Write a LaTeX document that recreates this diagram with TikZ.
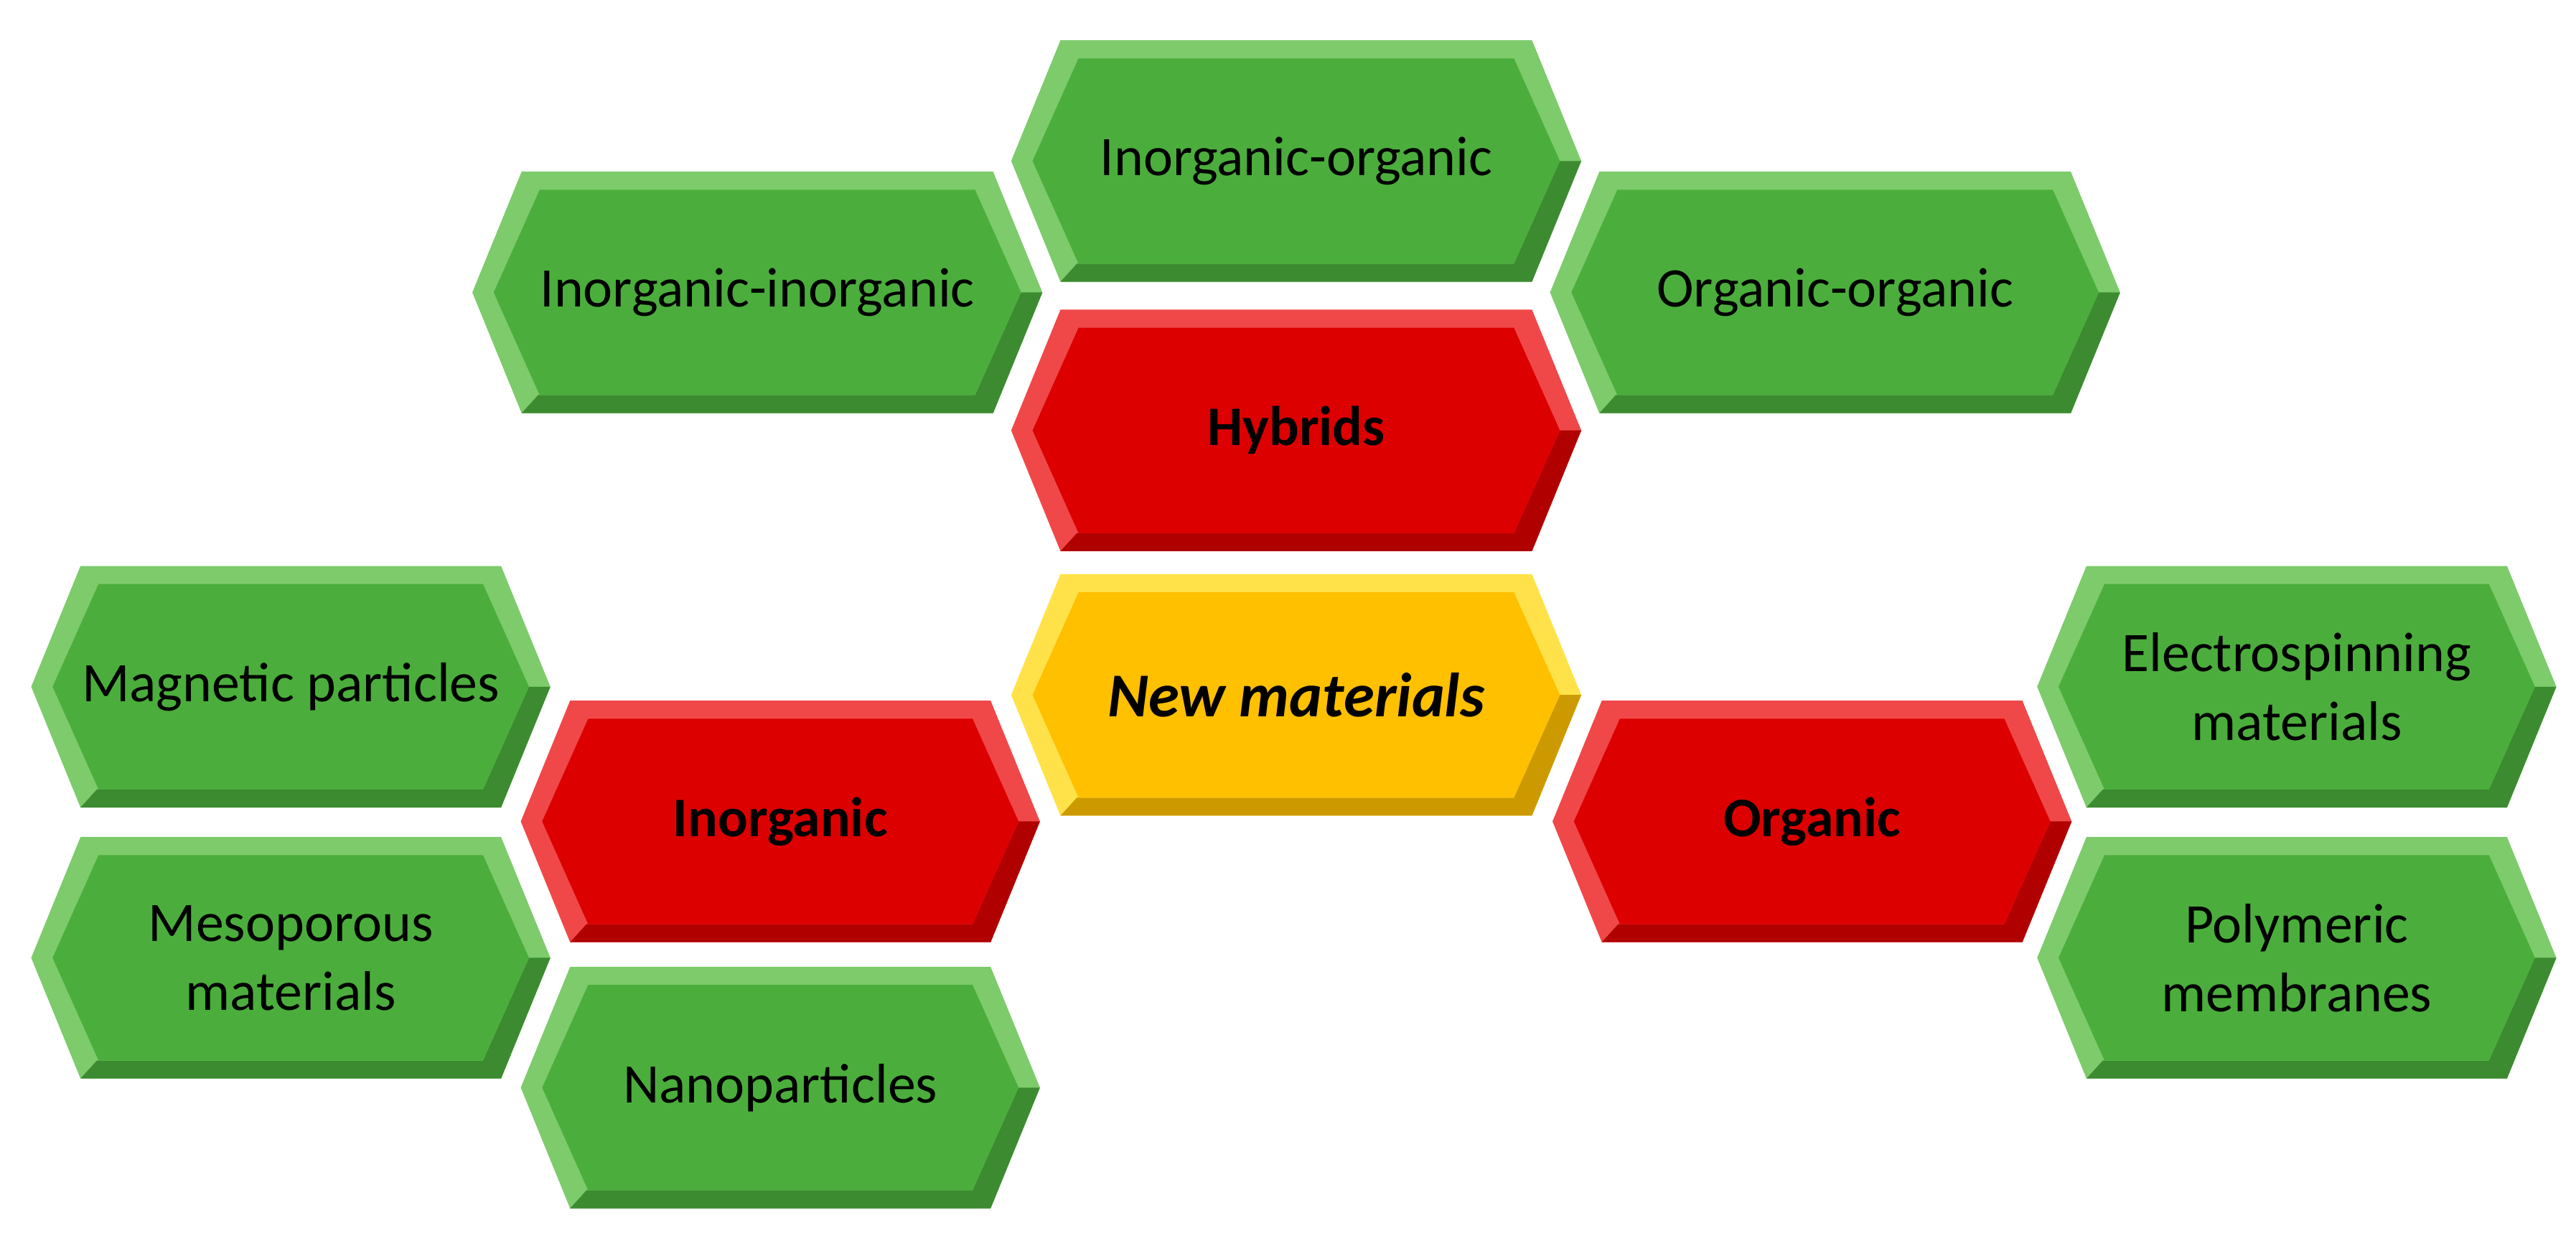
\documentclass[tikz,border=0pt]{standalone}
\usepackage{fontspec}
\setmainfont{Carlito}
\definecolor{gmain}{HTML}{4BAE3C}
\definecolor{gbev}{HTML}{7DCB6B}
\definecolor{gdark}{HTML}{3A9A2E}
\definecolor{rmain}{HTML}{DD0000}
\definecolor{rbev}{HTML}{F04848}
\definecolor{rdark}{HTML}{B80000}
\definecolor{ymain}{HTML}{FFC000}
\definecolor{ybev}{HTML}{FFE24A}
\definecolor{ydark}{HTML}{E0A000}
\newcommand\hexbox[8]{%
 \begin{scope}[shift={(#2,#3)}]
  \pgfmathsetmacro\ha{#4/2}\pgfmathsetmacro\hb{#5/2}
  \fill[#7] (-\ha,0)--(-\ha+30,-\hb)--(\ha-30,-\hb)--(\ha,0)--(\ha-30,\hb)--(-\ha+30,\hb)--cycle;
  \fill[#6!80!black] (\ha,0)--(\ha-30,\hb)--(-\ha+30,\hb)--(-\ha+40,\hb-11)--(\ha-41,\hb-11)--(\ha-13,0)--cycle;
  \fill[#6] (-\ha+13,0)--(-\ha+41,-\hb+11)--(\ha-41,-\hb+11)--(\ha-13,0)--(\ha-41,\hb-11)--(-\ha+41,\hb-11)--cycle;
 \end{scope}
 \node[align=center,font=\fontsize{17}{19}\selectfont#8] (#1) at (#2,#3) {};}
\begin{document}
\begin{tikzpicture}[x=0.5pt,y=-0.5pt]
\useasboundingbox (0,0) rectangle (1568,755);
\hexbox{io}{789}{98}{347}{147}{gmain}{gbev}{}
\node[font=\fontsize{17}{19}\selectfont] at (io) {Inorganic-organic};
\hexbox{ii}{461}{178}{347}{147}{gmain}{gbev}{}
\node[font=\fontsize{17}{19}\selectfont] at (ii) {Inorganic-inorganic};
\hexbox{oo}{1117}{178}{347}{147}{gmain}{gbev}{}
\node[font=\fontsize{17}{19}\selectfont] at (oo) {Organic-organic};
\hexbox{hy}{789}{262}{347}{147}{rmain}{rbev}{}
\node[font=\bfseries\fontsize{17}{19}\selectfont] at (hy) {Hybrids};
\hexbox{nm}{789}{423}{347}{147}{ymain}{ybev}{}
\node[font=\bfseries\itshape\fontsize{19}{21}\selectfont] at (nm) {New materials};
\hexbox{mp}{177}{418}{316}{147}{gmain}{gbev}{}
\node[font=\fontsize{17}{19}\selectfont] at (mp) {Magnetic particles};
\hexbox{in}{475}{500}{316}{147}{rmain}{rbev}{}
\node[font=\bfseries\fontsize{17}{19}\selectfont] at (in) {Inorganic};
\hexbox{me}{177}{583}{316}{147}{gmain}{gbev}{}
\node[align=center,font=\fontsize{17}{21}\selectfont] at (me) {Mesoporous\\materials};
\hexbox{np}{475}{662}{316}{147}{gmain}{gbev}{}
\node[font=\fontsize{17}{19}\selectfont] at (np) {Nanoparticles};
\hexbox{or}{1103}{500}{316}{147}{rmain}{rbev}{}
\node[font=\bfseries\fontsize{17}{19}\selectfont] at (or) {Organic};
\hexbox{el}{1398}{418}{316}{147}{gmain}{gbev}{}
\node[align=center,font=\fontsize{17}{21}\selectfont] at (el) {Electrospinning\\materials};
\hexbox{po}{1398}{583}{316}{147}{gmain}{gbev}{}
\node[align=center,font=\fontsize{17}{21}\selectfont] at (po) {Polymeric\\membranes};
\end{tikzpicture}
\end{document}
